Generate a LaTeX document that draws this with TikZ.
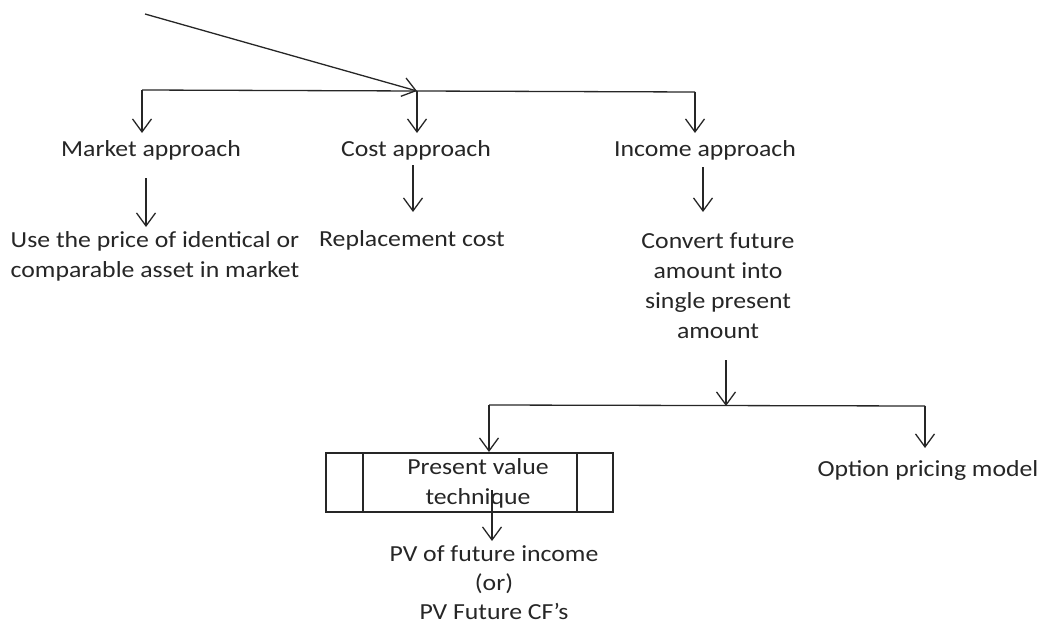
\documentclass[tikz,border=0pt]{standalone}
\usepackage{fontspec}
\setmainfont{Carlito}[FakeStretch=1.12]
\usetikzlibrary{arrows.meta}
\begin{document}
\begin{tikzpicture}[x=1pt,y=-1pt,
  line/.style={draw=black!85,line width=1.3pt},
  arr/.style={line,-{Straight Barb[length=13pt,width=19pt,line width=1.3pt]}},
  lbl/.style={inner sep=0pt,align=center,text=black!85,font=\fontsize{23}{30}\selectfont},
  boxst/.style={draw=black!85,line width=1.3pt,inner sep=0pt,minimum width=287pt,minimum height=59pt}]
\useasboundingbox (0,0) rectangle (1040,626);
% labels
\node[lbl] (ma) at (151,150) {Market approach};
\node[lbl] (ca) at (416,150) {Cost approach};
\node[lbl] (ia) at (705,150) {Income approach};
\node[lbl] (mt) at (155,256) {Use the price of identical or\\comparable asset in market};
\node[lbl] (ct) at (412,240) {Replacement cost};
\node[lbl] (it) at (718,286) {Convert future\\amount into\\single present\\amount};
\node[boxst] (pvbox) at (469.5,482.5) {};
\draw[line] (363,453) -- (363,512) (577,453) -- (577,512);
\node[lbl] (pvt) at (478,483) {Present value\\technique};
\node[lbl,font=\fontsize{23}{29}\selectfont] (pvi) at (494,583) {PV of future income\\(or)\\PV Future CF’s};
\node[lbl] (op) at (928,470) {Option pricing model};
% coordinates
\coordinate (s) at (145,14);
\coordinate (j) at (417,91);
\coordinate (bl) at (142,90);
\coordinate (br) at (695,92);
\coordinate (bm) at (417,91);
\coordinate (t1) at (142,133);
\coordinate (t2) at (417,133);
\coordinate (t3) at (695,133);
\coordinate (a1s) at (146,178);
\coordinate (a1e) at (146,227);
\coordinate (a2s) at (413,165);
\coordinate (a2e) at (413,212);
\coordinate (a3s) at (703,167);
\coordinate (a3e) at (703,212);
\coordinate (a4s) at (726,360);
\coordinate (a4e) at (726,406);
\coordinate (cl) at (489,405);
\coordinate (cr) at (925,406);
\coordinate (c1e) at (489,452);
\coordinate (c2e) at (925,448);
\coordinate (d1s) at (492,490);
\coordinate (d1e) at (492,541);
% connectors
\draw[arr] (s) -- (j);
\draw[line] (bl) -- (br);
\draw[arr] (bl) -- (t1);
\draw[arr] (bm) -- (t2);
\draw[arr] (br) -- (t3);
\draw[arr] (a1s) -- (a1e);
\draw[arr] (a2s) -- (a2e);
\draw[arr] (a3s) -- (a3e);
\draw[arr] (a4s) -- (a4e);
\draw[line] (cl) -- (cr);
\draw[arr] (cl) -- (c1e);
\draw[arr] (cr) -- (c2e);
\draw[arr] (d1s) -- (d1e);
\end{tikzpicture}
\end{document}
